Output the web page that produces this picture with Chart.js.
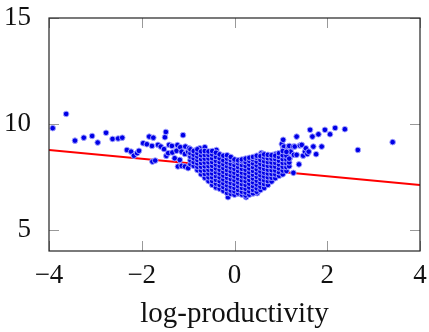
<!DOCTYPE html>
<html>
<head>
<meta charset="utf-8">
<script src="https://cdn.jsdelivr.net/npm/chart.js@4"></script>
<style>
  body { margin: 0; background: #fff; }
</style>
</head>
<body>
<canvas id="chart" width="429" height="332"></canvas>
<script>
// tick labels
const xTicks = [-4, -2, 0, 2, 4];
const yTicks = [5, 10, 15];

// fitted line (end points)
const fitX = [-4, 4];
const fitY = [8.77, 7.12];

// scattered points outside the dense core
const sparsePoints = [
  [-3.92, 9.80], [-3.63, 10.47], [-3.44, 9.21], [-3.25, 9.35], [-3.07, 9.43],
  [-2.95, 9.12], [-2.77, 9.58], [-2.63, 9.29], [-2.51, 9.31], [-2.42, 9.35],
  [-2.32, 8.77], [-2.23, 8.69], [-2.17, 8.50], [-2.10, 8.62], [-2.06, 8.73],
  [-1.97, 9.09], [-1.89, 9.04], [-1.84, 9.40], [-1.78, 8.96], [-1.75, 9.35],
  [-1.77, 8.22], [-1.71, 8.27], [-1.65, 9.01], [-1.59, 8.93], [-1.52, 8.81],
  [-1.50, 9.37], [-1.48, 9.62], [-1.47, 8.49], [-1.43, 8.62], [-1.41, 9.01],
  [-1.35, 8.96], [-1.34, 8.65], [-1.29, 8.38], [-1.25, 8.73], [-1.23, 9.00],
  [-1.22, 7.99], [-1.18, 8.30], [-1.17, 8.90], [-1.14, 8.69], [-1.14, 8.02],
  [-1.11, 9.47], [-1.07, 8.58], [-1.07, 7.99], [-1.06, 8.93], [-1.00, 8.68],
  [-1.00, 7.91], [-0.98, 8.85], [-0.93, 8.30], [-0.89, 8.69], [-0.86, 8.46],
  [-0.82, 8.77], [-0.79, 8.54], [-0.75, 8.85], [-0.64, 8.90], [-0.39, 8.77],
  [-0.14, 6.54], [0.25, 6.54], [0.06, 6.73], [0.49, 6.73],
  [0.58, 8.62], [0.62, 8.58], [0.73, 8.46], [0.83, 8.54], [0.89, 8.58],
  [0.94, 8.54], [1.02, 9.05], [1.05, 9.25], [1.05, 8.90], [1.05, 8.27],
  [1.07, 8.93], [1.11, 8.58], [1.14, 8.77], [1.16, 8.93], [1.18, 8.96],
  [1.19, 8.38], [1.21, 8.69], [1.27, 8.93], [1.28, 8.54], [1.27, 7.69],
  [1.30, 8.93], [1.34, 9.40], [1.34, 8.54], [1.39, 8.09], [1.41, 8.98],
  [1.45, 9.01], [1.48, 8.50], [1.52, 8.69], [1.54, 8.85], [1.57, 8.58],
  [1.60, 8.69], [1.63, 9.72], [1.68, 9.40], [1.70, 8.93], [1.76, 8.57],
  [1.81, 9.51], [1.88, 8.93], [1.95, 9.72], [2.06, 9.51], [2.17, 9.81],
  [2.38, 9.75], [2.66, 8.77], [3.41, 9.14]
];

// dense core, one column of y values per x
const coreX = [-0.95, -0.88, -0.80, -0.72, -0.64, -0.56, -0.48, -0.40, -0.32, -0.24,
  -0.16, -0.08, 0.00, 0.08, 0.16, 0.24, 0.32, 0.40, 0.48, 0.56,
  0.64, 0.72, 0.80, 0.88, 0.96, 1.04, 1.12, 1.18];
const coreY = [
  [8.10, 8.28, 8.45, 8.62, 8.80],
  [8.02, 8.20, 8.38, 8.55, 8.72],
  [7.82, 7.98, 8.14, 8.30, 8.46, 8.62, 8.80],
  [7.62, 7.80, 7.98, 8.16, 8.34, 8.52, 8.70],
  [7.46, 7.64, 7.82, 8.00, 8.18, 8.36, 8.54, 8.72],
  [7.30, 7.48, 7.66, 7.84, 8.01, 8.19, 8.37, 8.54, 8.70],
  [7.12, 7.30, 7.48, 7.66, 7.84, 8.02, 8.20, 8.38, 8.56, 8.72],
  [7.00, 7.18, 7.36, 7.54, 7.72, 7.90, 8.08, 8.26, 8.44, 8.64],
  [6.94, 7.12, 7.30, 7.48, 7.66, 7.84, 8.02, 8.20, 8.38, 8.56],
  [6.84, 7.02, 7.20, 7.38, 7.56, 7.74, 7.92, 8.10, 8.28, 8.50],
  [6.74, 6.92, 7.10, 7.28, 7.46, 7.64, 7.82, 8.00, 8.18, 8.36, 8.52],
  [6.70, 6.86, 7.04, 7.22, 7.40, 7.58, 7.76, 7.94, 8.12, 8.30, 8.44],
  [6.66, 6.82, 6.98, 7.16, 7.34, 7.52, 7.70, 7.88, 8.06, 8.24, 8.32],
  [6.72, 6.88, 7.06, 7.24, 7.42, 7.60, 7.78, 7.96, 8.14, 8.28],
  [6.66, 6.80, 6.98, 7.16, 7.34, 7.52, 7.70, 7.88, 8.06, 8.24, 8.32],
  [6.62, 6.76, 6.94, 7.12, 7.30, 7.48, 7.66, 7.84, 8.02, 8.20, 8.36],
  [6.66, 6.82, 7.00, 7.18, 7.36, 7.54, 7.72, 7.90, 8.08, 8.26, 8.40],
  [6.72, 6.88, 7.06, 7.24, 7.42, 7.60, 7.78, 7.96, 8.14, 8.32, 8.44],
  [6.80, 6.96, 7.14, 7.32, 7.50, 7.68, 7.86, 8.04, 8.22, 8.40, 8.50],
  [6.88, 7.04, 7.22, 7.40, 7.58, 7.76, 7.94, 8.12, 8.30, 8.48],
  [6.98, 7.16, 7.34, 7.52, 7.70, 7.88, 8.06, 8.24, 8.42, 8.56],
  [7.12, 7.30, 7.48, 7.66, 7.84, 8.02, 8.20, 8.38, 8.54],
  [7.28, 7.46, 7.64, 7.82, 8.00, 8.18, 8.36, 8.52],
  [7.44, 7.62, 7.80, 7.98, 8.16, 8.34, 8.50],
  [7.55, 7.72, 7.90, 8.08, 8.26, 8.44, 8.62],
  [7.62, 7.80, 7.98, 8.16, 8.34, 8.52, 8.72],
  [7.78, 7.96, 8.14, 8.32, 8.50, 8.68],
  [8.00, 8.18, 8.36]
];

const points = sparsePoints.map(p => ({ x: p[0], y: p[1] }));
coreX.forEach((x, i) => {
  coreY[i].forEach(y => points.push({ x: x, y: y }));
});

const serif = "'Liberation Serif', 'DejaVu Serif', serif";

function minus(v) {
  return v < 0 ? "\u2212" + Math.abs(v) : String(v);
}

// pgfplots style: full frame and inward ticks on all four sides
const framePlugin = {
  id: "frame",
  afterDraw(chart) {
    const ctx = chart.ctx;
    const a = chart.chartArea;
    const xs = chart.scales.x;
    const ys = chart.scales.y;
    ctx.save();
    ctx.strokeStyle = "#999";
    ctx.lineWidth = 1;
    ctx.beginPath();
    xTicks.forEach(t => {
      const px = Math.round(xs.getPixelForValue(t)) + 0.5;
      ctx.moveTo(px, a.bottom);
      ctx.lineTo(px, a.bottom - 10);
      ctx.moveTo(px, a.top);
      ctx.lineTo(px, a.top + 10);
    });
    yTicks.forEach(t => {
      const py = Math.round(ys.getPixelForValue(t)) + 0.5;
      ctx.moveTo(a.left, py);
      ctx.lineTo(a.left + 10, py);
      ctx.moveTo(a.right, py);
      ctx.lineTo(a.right - 10, py);
    });
    ctx.stroke();
    ctx.strokeStyle = "#222";
    ctx.lineWidth = 1.2;
    ctx.strokeRect(a.left, a.top, a.right - a.left, a.bottom - a.top);
    ctx.restore();
  }
};

new Chart("chart", {
  type: "scatter",
  data: {
    datasets: [
      {
        type: "line",
        data: fitX.map((x, i) => ({ x: x, y: fitY[i] })),
        borderColor: "#ff0000",
        borderWidth: 2,
        pointRadius: 0,
        order: 2,
      },
      {
        data: points,
        backgroundColor: "rgb(0,0,230)",
        borderColor: "rgba(165,165,255,0.95)",
        borderWidth: 1,
        pointRadius: 2.8,
        order: 1,
      },
    ],
  },
  options: {
    responsive: false,
    animation: false,
    layout: { padding: { top: 18, right: 9 } },
    plugins: { legend: { display: false }, tooltip: { enabled: false } },
    scales: {
      x: {
        type: "linear",
        min: -4,
        max: 4,
        afterBuildTicks: s => { s.ticks = xTicks.map(v => ({ value: v })); },
        afterFit: s => { s.height = 81; s.paddingLeft = 0; s.paddingRight = 0; },
        grid: { display: false },
        border: { display: false },
        ticks: {
          color: "#111",
          padding: 1,
          font: { family: serif, size: 27 },
          callback: v => minus(v),
        },
        title: {
          display: true,
          text: "log-productivity",
          color: "#111",
          font: { family: serif, size: 29 },
          padding: { top: 0, bottom: 0 },
        },
      },
      y: {
        min: 4,
        max: 15,
        afterBuildTicks: s => { s.ticks = yTicks.map(v => ({ value: v })); },
        afterFit: s => { s.width = 49; s.paddingTop = 0; s.paddingBottom = 0; },
        grid: { display: false },
        border: { display: false },
        ticks: {
          color: "#111",
          padding: 10,
          font: { family: serif, size: 27 },
          callback: v => minus(v),
        },
      },
    },
  },
  plugins: [framePlugin],
});
</script>
</body>
</html>
